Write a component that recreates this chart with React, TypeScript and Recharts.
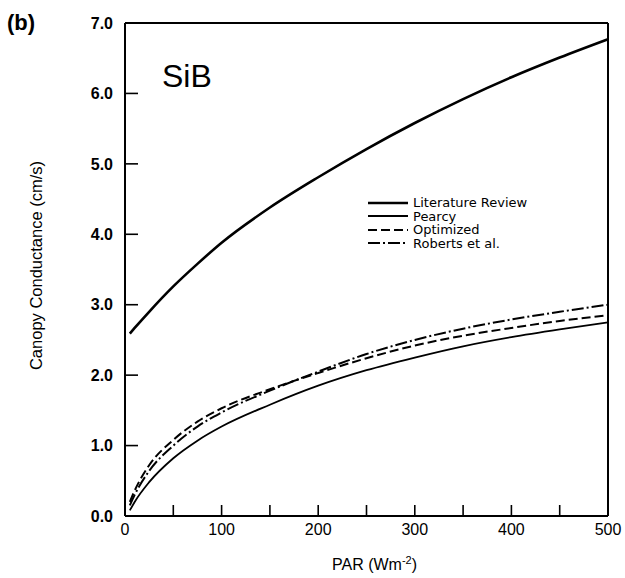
import React from 'react';
import { LineChart, Line, XAxis, YAxis, ReferenceLine, Legend, Label } from 'recharts';

// PAR (W m-2) sample points
const parValues = [5, 10, 25, 50, 75, 100, 150, 200, 250, 300, 350, 400, 450, 500];

// canopy conductance (cm/s) for each model
const literatureReview = [2.59, 2.67, 2.9, 3.26, 3.58, 3.88, 4.38, 4.81, 5.21, 5.58, 5.92, 6.23, 6.51, 6.77];
const pearcy = [0.08, 0.2, 0.48, 0.82, 1.07, 1.27, 1.58, 1.85, 2.07, 2.25, 2.41, 2.54, 2.65, 2.75];
const optimized = [0.2, 0.36, 0.72, 1.08, 1.34, 1.53, 1.8, 2.03, 2.24, 2.42, 2.56, 2.67, 2.77, 2.85];
const roberts = [0.15, 0.3, 0.64, 1.0, 1.27, 1.47, 1.78, 2.05, 2.3, 2.5, 2.66, 2.79, 2.9, 3.0];

const xTicks = [0, 50, 100, 150, 200, 250, 300, 350, 400, 450, 500];
const yTicks = [0, 1, 2, 3, 4, 5, 6, 7];

const series = [
  { key: 'literature', name: 'Literature Review', width: 2.6, dash: undefined },
  { key: 'pearcy', name: 'Pearcy', width: 1.8, dash: undefined },
  { key: 'optimized', name: 'Optimized', width: 2, dash: '9 4' },
  { key: 'roberts', name: 'Roberts et al.', width: 2, dash: '12 3 2 3' },
];

const data = parValues.map((par, i) => ({
  par,
  literature: literatureReview[i],
  pearcy: pearcy[i],
  optimized: optimized[i],
  roberts: roberts[i],
}));

const font = '"Liberation Sans", Arial, Helvetica, sans-serif';

const LegendBox = () => (
  <div style={{ fontFamily: '"DejaVu Sans", sans-serif', fontSize: 13, color: '#000' }}>
    {series.map((s) => (
      <div key={s.key} style={{ display: 'flex', alignItems: 'center', height: 13.5, lineHeight: '13.5px' }}>
        <svg width={40} height={8} style={{ marginRight: 5 }}>
          <line x1={0} y1={4} x2={40} y2={4} stroke="#000" strokeWidth={s.width} strokeDasharray={s.dash} />
        </svg>
        <span>{s.name}</span>
      </div>
    ))}
  </div>
);

export default function App() {
  return (
    <div style={{ position: 'absolute', left: 0, top: 0, width: 625, height: 578, background: '#fff', fontFamily: font }}>
      <div style={{ position: 'absolute', left: 7, top: 10, fontSize: 22, fontWeight: 'bold' }}>(b)</div>
      <div style={{ position: 'absolute', left: 162, top: 58, fontSize: 32 }}>SiB</div>
      <LineChart width={625} height={578} data={data} margin={{ top: 23, right: 17, left: 0, bottom: 0 }}>
        <XAxis
          type="number"
          dataKey="par"
          domain={[0, 500]}
          ticks={xTicks}
          height={62}
          tickSize={-11}
          tickMargin={19}
          tickFormatter={(v: number) => (v % 100 === 0 ? String(v) : '')}
          tick={{ fontSize: 16, fill: '#000', fontFamily: font }}
          axisLine={{ stroke: '#000', strokeWidth: 2 }}
          tickLine={{ stroke: '#000', strokeWidth: 1.6 }}
        >
          <Label
            content={(props: any) => {
              const vb = props.viewBox || { x: 125, width: 483, y: 516 };
              return (
                <text x={vb.x + vb.width / 2 + 8} y={vb.y + 54} textAnchor="middle" fontSize={16} fontFamily={font} fill="#000">
                  PAR (Wm<tspan dy={-6} fontSize={11}>-2</tspan>
                  <tspan dy={6}>)</tspan>
                </text>
              );
            }}
          />
        </XAxis>
        <YAxis
          type="number"
          domain={[0, 7]}
          ticks={yTicks}
          width={125}
          tickSize={-13}
          tickMargin={25}
          tickFormatter={(v: number) => v.toFixed(1)}
          tick={{ fontSize: 16, fontWeight: 'bold', fill: '#000', fontFamily: font }}
          axisLine={{ stroke: '#000', strokeWidth: 2 }}
          tickLine={{ stroke: '#000', strokeWidth: 1.6 }}
        >
          <Label
            content={(props: any) => {
              const vb = props.viewBox || { x: 0, y: 23, height: 493 };
              const cy = vb.y + vb.height / 2 - 4;
              return (
                <text x={38} y={cy} transform={`rotate(-90 38 ${cy})`} textAnchor="middle" dominantBaseline="middle" fontSize={16.5} fontFamily={font} fill="#000">
                  Canopy Conductance (cm/s)
                </text>
              );
            }}
          />
        </YAxis>
        <ReferenceLine y={7} stroke="#000" strokeWidth={2} />
        <ReferenceLine x={500} stroke="#000" strokeWidth={2} />
        <Legend
          layout="vertical"
          align="center"
          verticalAlign="middle"
          content={() => <LegendBox />}
          wrapperStyle={{ left: 368, top: 196, width: 200 }}
        />
        {series.map((s) => (
          <Line
            key={s.key}
            type="monotone"
            dataKey={s.key}
            name={s.name}
            stroke="#000"
            strokeWidth={s.width}
            strokeDasharray={s.dash}
            dot={false}
            isAnimationActive={false}
          />
        ))}
      </LineChart>
    </div>
  );
}
